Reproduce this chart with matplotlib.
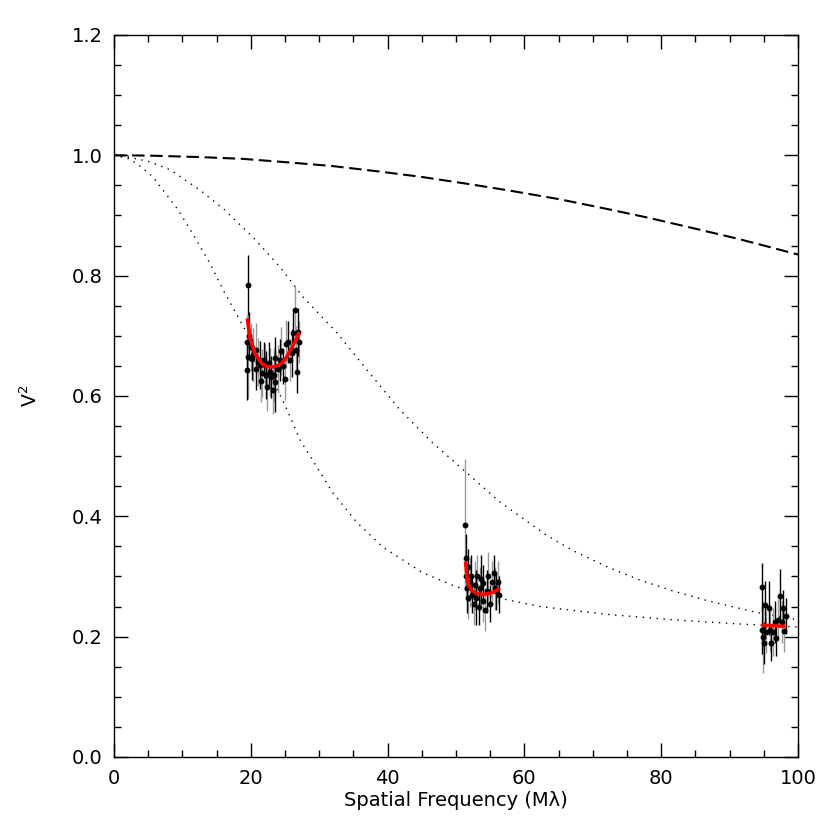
# -*- coding: utf-8 -*-
"""
Curva de visibilidade V^2 vs frequencia espacial
"""

import numpy as np
import matplotlib
matplotlib.use('Agg')
import matplotlib.pyplot as plt
from matplotlib.ticker import MultipleLocator, FormatStrFormatter

# modelos
disk_x = [0, 5, 12.6, 18.9, 25.7, 32, 38.8, 45, 52.0, 58, 65.1, 72, 78.2, 85, 91.3, 95, 100]
disk_y = [1.0, 0.9995, 0.997, 0.994, 0.988, 0.982, 0.973, 0.964, 0.952, 0.941, 0.927, 0.911, 0.896,
          0.878, 0.861, 0.850, 0.835]

upper_x = [0, 2, 5, 8.2, 12.6, 16.2, 20.3, 24.3, 27.6, 32.6, 37.0, 41.8, 46.6, 51.6, 56.4,
           63.3, 67.1, 72.1, 76.9, 81.7, 86.7, 94.0, 100]
upper_y = [1.0, 0.997, 0.99, 0.976, 0.942, 0.909, 0.864, 0.814, 0.765, 0.705, 0.643, 0.577, 0.522,
           0.472, 0.424, 0.368, 0.343, 0.316, 0.294, 0.276, 0.260, 0.240, 0.228]

lower_x = [0, 2, 3.5, 5.7, 9.4, 11.8, 14.0, 16.2, 18.4, 20.5, 22.5, 25.0, 27.2, 32.0, 35.5, 39.3,
           45.0, 50.0, 55.0, 62.3, 72.1, 81.7, 91.5, 100]
lower_y = [1.0, 0.995, 0.985, 0.964, 0.909, 0.864, 0.821, 0.771, 0.726, 0.683, 0.643, 0.585, 0.527,
           0.439, 0.390, 0.349, 0.307, 0.283, 0.267, 0.250, 0.237, 0.228, 0.221, 0.216]

# dados - grupo 1 (~20-27 Mlambda)
x1 = [19.5, 19.5, 19.6, 19.6, 19.8, 20.0, 20.2, 20.4, 20.7, 20.8, 21.0, 21.3, 21.5, 21.6, 21.9,
      22.1, 22.2, 22.4, 22.6, 22.8, 23.0, 23.2, 23.4, 23.5, 23.6, 24.0, 24.3, 24.4, 24.7, 25.0,
      25.2, 25.5, 25.7, 26.0, 26.2, 26.5, 26.6, 26.7, 26.9, 27.1]
y1 = [0.690, 0.643, 0.665, 0.785, 0.700, 0.682, 0.662, 0.668, 0.676, 0.645, 0.657, 0.652, 0.625,
      0.638, 0.660, 0.652, 0.635, 0.615, 0.654, 0.640, 0.632, 0.610, 0.635, 0.624, 0.663, 0.645,
      0.660, 0.674, 0.650, 0.629, 0.687, 0.690, 0.660, 0.672, 0.704, 0.743, 0.676, 0.640, 0.707, 0.690]
e1 = [0.045, 0.050, 0.070, 0.050, 0.040, 0.040, 0.035, 0.045, 0.045, 0.035, 0.040, 0.040, 0.035,
      0.040, 0.030, 0.035, 0.040, 0.040, 0.035, 0.040, 0.035, 0.040, 0.045, 0.050, 0.035, 0.040,
      0.035, 0.040, 0.030, 0.035, 0.040, 0.035, 0.035, 0.040, 0.035, 0.040, 0.040, 0.035, 0.040, 0.035]
g1 = [1, 0, 1, 0, 0, 1, 0, 1, 1, 0, 1, 0, 1, 1, 0, 1, 0, 1, 0, 1, 0, 1, 1, 0, 0, 1, 0, 1, 0, 1,
      1, 0, 1, 0, 0, 1, 1, 0, 0, 1]

# grupo 2 (~51-56 Mlambda)
x2 = [51.3, 51.4, 51.5, 51.6, 51.7, 51.8, 52.0, 52.2, 52.4, 52.6, 52.8, 53.0, 53.1, 53.3, 53.5,
      53.7, 53.9, 54.0, 54.2, 54.5, 54.7, 55.0, 55.2, 55.5, 55.7, 55.9, 56.1, 56.3]
y2 = [0.385, 0.330, 0.300, 0.280, 0.315, 0.265, 0.290, 0.300, 0.270, 0.255, 0.285, 0.265, 0.300,
      0.250, 0.280, 0.295, 0.260, 0.289, 0.245, 0.275, 0.300, 0.255, 0.291, 0.305, 0.280, 0.275,
      0.290, 0.270]
e2 = [0.110, 0.040, 0.035, 0.040, 0.030, 0.035, 0.040, 0.035, 0.030, 0.035, 0.040, 0.045, 0.035,
      0.030, 0.035, 0.040, 0.035, 0.030, 0.035, 0.035, 0.040, 0.030, 0.035, 0.030, 0.035, 0.030,
      0.035, 0.030]
g2 = [1, 0, 1, 0, 0, 1, 1, 0, 0, 1, 1, 0, 1, 0, 1, 0, 1, 0, 1, 0, 1, 0, 1, 0, 1, 0, 1, 0]

# grupo 3 (~95-98 Mlambda)
x3 = [94.8, 94.8, 94.9, 95.0, 95.2, 95.3, 95.7, 95.9, 96.1, 96.4, 96.6, 96.8, 97.1, 97.4, 97.6,
      97.8, 98.0, 98.2]
y3 = [0.283, 0.211, 0.200, 0.189, 0.253, 0.207, 0.247, 0.211, 0.190, 0.208, 0.225, 0.197, 0.228,
      0.268, 0.225, 0.247, 0.210, 0.235]
e3 = [0.040, 0.040, 0.060, 0.035, 0.040, 0.035, 0.045, 0.035, 0.030, 0.040, 0.035, 0.030, 0.035,
      0.045, 0.035, 0.030, 0.035, 0.030]
g3 = [0, 0, 1, 0, 0, 1, 0, 1, 0, 1, 0, 0, 1, 0, 1, 0, 1, 0]

# ajustes (vermelho)
fit1_x = [19.5, 19.9, 20.6, 21.6, 22.3, 23.1, 23.8, 24.5, 25.1, 25.7, 26.3, 26.9, 27.1]
fit1_y = [0.729, 0.696, 0.671, 0.654, 0.649, 0.648, 0.650, 0.654, 0.662, 0.674, 0.687, 0.701, 0.706]
fit2_x = [51.4, 51.6, 51.9, 52.3, 53.0, 54.0, 55.0, 56.0, 56.4]
fit2_y = [0.325, 0.300, 0.285, 0.277, 0.272, 0.270, 0.272, 0.277, 0.281]
fit3_x = [94.7, 98.2]
fit3_y = [0.219, 0.217]

fig = plt.figure(figsize=(8.3, 8.3), dpi=100)
ax = fig.add_axes([0.1373, 0.088, 0.8241, 0.8699])

ax.plot(disk_x, disk_y, color='black', lw=1.5, linestyle=(0, (6, 2.7)))
ax.plot(upper_x, upper_y, color='black', lw=1.0, linestyle=(0, (1, 4)))
ax.plot(lower_x, lower_y, color='black', lw=1.0, linestyle=(0, (1, 4)))

cores = ['black', '#9a9a9a']
for xs, ys, es, gs in [(x1, y1, e1, g1), (x2, y2, e2, g2), (x3, y3, e3, g3)]:
    xs, ys, es, gs = np.array(xs), np.array(ys), np.array(es), np.array(gs)
    for k in [1, 0]:
        m = gs == k
        ax.errorbar(xs[m], ys[m], yerr=es[m], fmt='none', ecolor=cores[k], elinewidth=1.0, capsize=0)
    ax.plot(xs, ys, 'o', color='black', ms=3.2, zorder=4)

for fx, fy in [(fit1_x, fit1_y), (fit2_x, fit2_y), (fit3_x, fit3_y)]:
    ax.plot(fx, fy, color='red', lw=2.6, zorder=5, solid_capstyle='butt')

ax.set_xlim(0, 100)
ax.set_ylim(0.0, 1.2)
ax.xaxis.set_major_locator(MultipleLocator(20))
ax.xaxis.set_minor_locator(MultipleLocator(5))
ax.yaxis.set_major_locator(MultipleLocator(0.2))
ax.yaxis.set_minor_locator(MultipleLocator(0.05))
ax.yaxis.set_major_formatter(FormatStrFormatter('%.1f'))
ax.tick_params(which='both', direction='in', top=True, right=True, labelsize=14, width=1.0)
ax.tick_params(axis='x', pad=9)
ax.tick_params(axis='y', pad=8)
ax.tick_params(which='major', length=10)
ax.tick_params(which='minor', length=5)
for s in ax.spines.values():
    s.set_linewidth(1.0)

ax.set_xlabel('Spatial Frequency (M\u03bb)', fontsize=14, labelpad=2)
ax.set_ylabel('V$^2$', fontsize=13.5, labelpad=22)

fig.savefig('out.png', dpi=100)
